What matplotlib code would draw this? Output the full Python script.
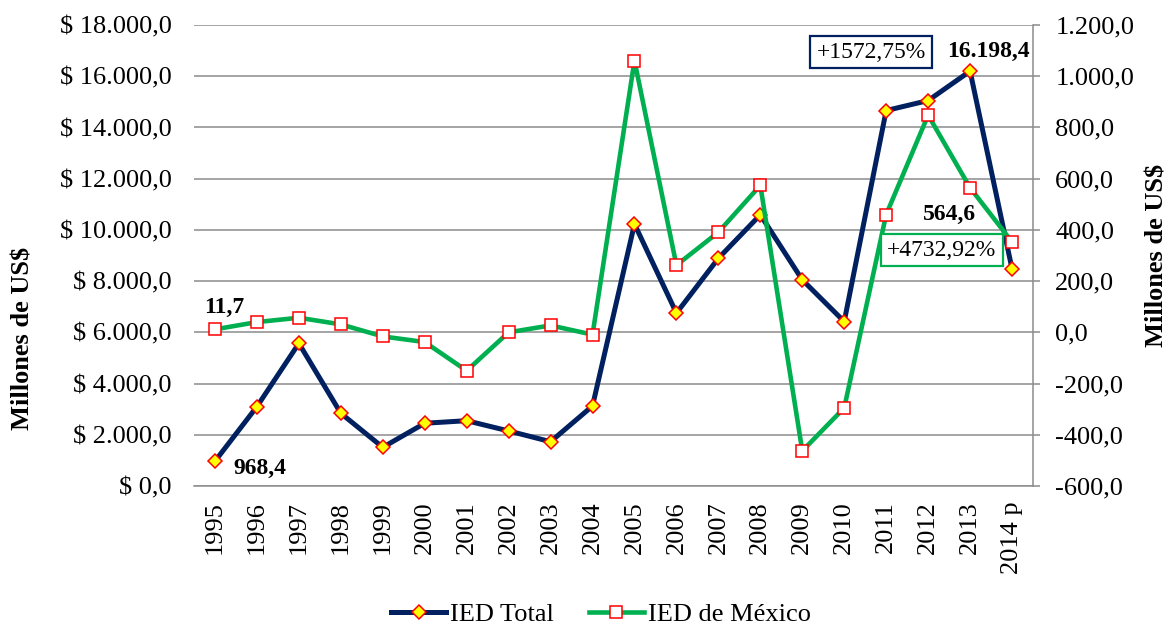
import matplotlib
matplotlib.use("Agg")
import matplotlib.pyplot as plt
from matplotlib.lines import Line2D

plt.rcParams['font.family'] = ['Liberation Serif', 'DejaVu Serif']

# ---- data ----
years = ["1995", "1996", "1997", "1998", "1999", "2000", "2001", "2002", "2003", "2004",
         "2005", "2006", "2007", "2008", "2009", "2010", "2011", "2012", "2013", "2014 p"]
ied_total = [968.4, 3100, 5570, 2840, 1510, 2450, 2550, 2150, 1730, 3125,
             10230, 6750, 8890, 10590, 8050, 6420, 14660, 15050, 16198.4, 8480]
ied_mexico = [11.7, 40, 57, 31, -16, -38, -150, 0, 27, -9,
              1061, 262, 391, 574, -463, -295, 460, 848, 564.6, 353]
left_ticks = [0, 2000, 4000, 6000, 8000, 10000, 12000, 14000, 16000, 18000]
left_labels = ["$ 0,0", "$ 2.000,0", "$ 4.000,0", "$ 6.000,0", "$ 8.000,0", "$ 10.000,0",
               "$ 12.000,0", "$ 14.000,0", "$ 16.000,0", "$ 18.000,0"]
right_ticks = [-600, -400, -200, 0, 200, 400, 600, 800, 1000, 1200]
right_labels = ["-600,0", "-400,0", "-200,0", "0,0", "200,0", "400,0", "600,0", "800,0",
                "1.000,0", "1.200,0"]

NAVY = "#002060"
GREEN = "#00B050"
GRID = "#8c8c8c"
FS = 19
FS_LBL = 17

W, H = 1169, 625
fig = plt.figure(figsize=(W / 100, H / 100), dpi=100)
ax = fig.add_axes([194 / W, 1 - 486 / H, (1033 - 194) / W, (486 - 25) / H])
ax2 = ax.twinx()

x = list(range(len(years)))

ax.plot(x, ied_total, color=NAVY, lw=3.6, marker='D', ms=6.8,
        mfc='#FFFF00', mec='#FF0000', mew=1.1, zorder=3, label="IED Total")
ax2.plot(x, ied_mexico, color=GREEN, lw=3.3, marker='s', ms=9,
         mfc='white', mec='#FF0000', mew=1.1, zorder=3, label="IED de México")

ax.set_xlim(-0.5, len(years) - 0.5)
ax.set_ylim(0, 18000)
ax2.set_ylim(-600, 1200)

ax.set_yticks(left_ticks)
ax.set_yticklabels(left_labels, fontsize=FS)
ax2.set_yticks(right_ticks)
ax2.set_yticklabels(right_labels, fontsize=FS)
ax.set_xticks(x)
ax.set_xticklabels(years, rotation=90, fontsize=FS)

ax.grid(axis='y', color=GRID, lw=1.1, zorder=0)
ax.set_axisbelow(True)
ax.tick_params(axis='y', length=0, pad=16)
ax.tick_params(axis='x', length=0, pad=11)
ax2.tick_params(axis='y', length=5, width=1.1, color=GRID, direction='out', pad=11)

for s in ['left', 'top', 'right']:
    ax.spines[s].set_visible(False)
for s in ['left', 'top', 'bottom']:
    ax2.spines[s].set_visible(False)
ax.spines['bottom'].set_color(GRID)
ax.spines['bottom'].set_linewidth(1.1)
ax2.spines['right'].set_color(GRID)
ax2.spines['right'].set_linewidth(1.1)

# data labels
ax.annotate("968,4", (0, ied_total[0]), xytext=(45, -7), textcoords='offset pixels',
            ha='center', va='center', fontsize=FS_LBL, fontweight='bold')
ax.annotate("16.198,4", (18, ied_total[18]), xytext=(18, 20), textcoords='offset pixels',
            ha='center', va='center', fontsize=FS_LBL, fontweight='bold')
ax2.annotate("11,7", (0, ied_mexico[0]), xytext=(9, 22), textcoords='offset pixels',
             ha='center', va='center', fontsize=FS_LBL, fontweight='bold')
ax2.annotate("564,6", (18, ied_mexico[18]), xytext=(-21, -27), textcoords='offset pixels',
             ha='center', va='center', fontsize=FS_LBL, fontweight='bold')

# boxed growth annotations
fig.text(871 / W, 1 - 52 / H, "+1572,75%", ha='center', va='center', fontsize=FS_LBL,
         bbox=dict(boxstyle='square,pad=0.25', fc='white', ec=NAVY, lw=1.6), zorder=5)
fig.text(942 / W, 1 - 250 / H, "+4732,92%", ha='center', va='center', fontsize=FS_LBL,
         bbox=dict(boxstyle='square,pad=0.25', fc='white', ec=GREEN, lw=1.6), zorder=5)

# axis titles
fig.text(23 / W, 1 - 338 / H, "Millones de US$", rotation=90, ha='center', va='center',
         fontsize=FS, fontweight='bold')
fig.text(1157 / W, 1 - 255 / H, "Millones de US$", rotation=90, ha='center', va='center',
         fontsize=FS, fontweight='bold')

# legend
handles = [
    Line2D([], [], color=NAVY, lw=3.6, marker='D', ms=6.8, mfc='#FFFF00', mec='#FF0000', mew=1.1),
    Line2D([], [], color=GREEN, lw=3.3, marker='s', ms=9, mfc='white', mec='#FF0000', mew=1.1),
]
fig.legend(handles, ["IED Total", "IED de México"], loc='center',
           bbox_to_anchor=(601 / W, 1 - 614 / H), ncol=2, frameon=False, fontsize=FS,
           handlelength=2.1, handletextpad=0.15, columnspacing=1.3, borderpad=0)

fig.savefig("out.png", dpi=100)
